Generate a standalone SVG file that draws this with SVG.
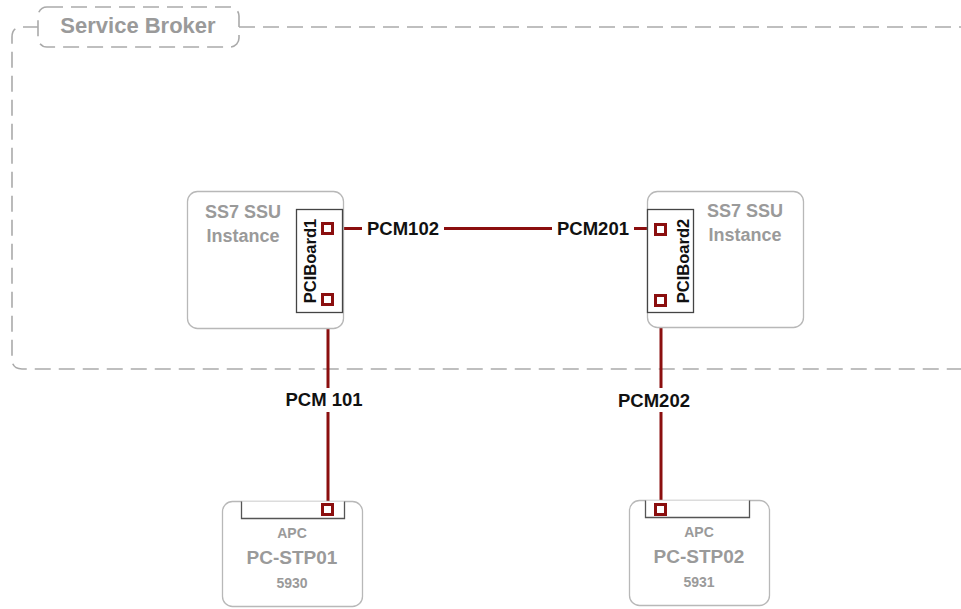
<svg xmlns="http://www.w3.org/2000/svg" width="961" height="609" viewBox="0 0 961 609">
<style>
.bnd{fill:none;stroke:#aaaaaa;stroke-width:1.6;stroke-dasharray:16,8}
.node{fill:#ffffff;stroke:#b8b8b8;stroke-width:1.3}
.board{fill:#ffffff;stroke:#444444;stroke-width:1.3}
.tab{fill:#ffffff;stroke:#555555;stroke-width:1.3}
.port{fill:#ffffff;stroke:#8b0f0f;stroke-width:3}
.link{fill:none;stroke:#8b0f0f;stroke-width:3}
.gt{font-family:"Liberation Sans",Arial,sans-serif;font-weight:bold;fill:#9a9a9a;text-anchor:middle}
.bt{font-family:"Liberation Sans",Arial,sans-serif;font-weight:bold;fill:#111111;text-anchor:middle}
.lbl{font-family:"Liberation Sans",Arial,sans-serif;font-weight:bold;fill:#111111;font-size:18.5px;text-anchor:middle}
</style>
<g id="service-broker">
<path class="bnd" d="M975,27 H22 Q12,27 12,37 V359 Q12,369 22,369 H975"/>
<rect x="38" y="7" width="201" height="40" rx="9" fill="#ffffff" stroke="#aaaaaa" stroke-width="1.6" stroke-dasharray="16,8"/>
<text x="138" y="33" class="gt" font-size="22">Service Broker</text>
</g>
<g id="connectors">
<line class="link" x1="333" y1="228.5" x2="655" y2="228.5"/>
<line class="link" x1="328" y1="306" x2="328" y2="504"/>
<line class="link" x1="661" y1="306" x2="661" y2="504"/>
<rect x="362" y="216" width="82" height="24" fill="#ffffff"/>
<text x="403" y="235" class="lbl">PCM102</text>
<rect x="552" y="216" width="82" height="24" fill="#ffffff"/>
<text x="593" y="235" class="lbl">PCM201</text>
<rect x="282" y="388" width="84" height="24" fill="#ffffff"/>
<text x="324" y="406" class="lbl">PCM 101</text>
<rect x="613" y="388" width="82" height="24" fill="#ffffff"/>
<text x="654" y="407" class="lbl">PCM202</text>
</g>
<g id="ssu1">
<rect class="node" x="187.5" y="191.5" width="156" height="137" rx="10"/>
<text x="243" y="218" class="gt" font-size="18">SS7 SSU</text>
<text x="243" y="242" class="gt" font-size="18">Instance</text>
<rect class="board" x="296.5" y="209.5" width="46" height="103"/>
<text transform="translate(316,261) rotate(-90)" class="bt" font-size="16.5">PCIBoard1</text>
<rect class="port" x="322.5" y="223.5" width="10" height="10"/>
<rect class="port" x="322.5" y="294.5" width="10" height="10"/>
</g>
<g id="ssu2">
<rect class="node" x="647.5" y="191.5" width="156" height="136" rx="10"/>
<text x="745" y="217" class="gt" font-size="18">SS7 SSU</text>
<text x="745" y="241" class="gt" font-size="18">Instance</text>
<rect class="board" x="647.5" y="209.5" width="46" height="103"/>
<text transform="translate(689,261) rotate(-90)" class="bt" font-size="16.5">PCIBoard2</text>
<rect class="port" x="655.5" y="224.5" width="10" height="10"/>
<rect class="port" x="655.5" y="295.5" width="10" height="10"/>
</g>
<g id="stp01">
<rect class="node" x="222.5" y="501.5" width="140" height="105" rx="10"/>
<path class="tab" d="M241.5,501.5 V518.5 H344.5 V501.5"/>
<rect class="port" x="322.5" y="504.5" width="10" height="10"/>
<text x="292" y="538" class="gt" font-size="14">APC</text>
<text x="292" y="564" class="gt" font-size="19">PC-STP01</text>
<text x="292" y="588" class="gt" font-size="14">5930</text>
</g>
<g id="stp02">
<rect class="node" x="629.5" y="500.5" width="140" height="105" rx="10"/>
<path class="tab" d="M645.5,500.5 V517.5 H749.5 V500.5"/>
<rect class="port" x="655.5" y="504.5" width="10" height="10"/>
<text x="699" y="537" class="gt" font-size="14">APC</text>
<text x="699" y="563" class="gt" font-size="19">PC-STP02</text>
<text x="699" y="587" class="gt" font-size="14">5931</text>
</g>
</svg>
